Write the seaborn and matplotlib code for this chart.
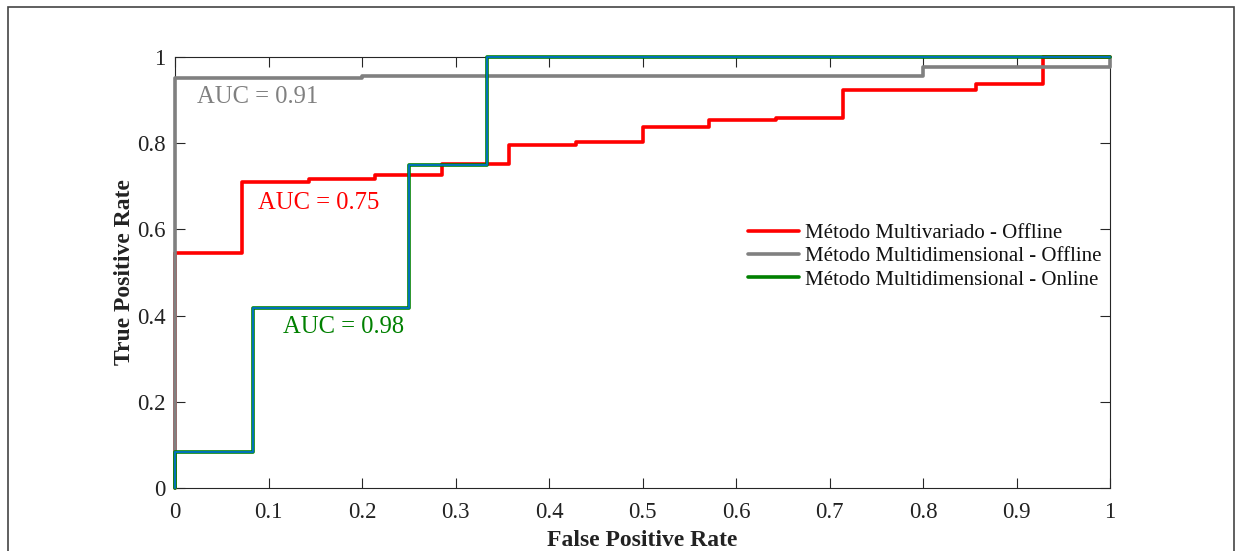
import numpy as np
import pandas as pd
import matplotlib
matplotlib.use("Agg")
import matplotlib.pyplot as plt
from matplotlib.patches import Rectangle
import seaborn as sns

# ROC operating points (false positive rate, true positive rate)
fpr_multivariado = [0, 0, 1/14, 2/14, 3/14, 4/14, 5/14, 6/14, 7/14, 8/14, 9/14, 10/14, 12/14, 13/14, 1]
tpr_multivariado = [0, 0.545, 0.711, 0.717, 0.727, 0.752, 0.796, 0.803, 0.838, 0.853, 0.858, 0.923, 0.938, 1.0, 1.0]

fpr_multidim_off = [0, 0, 0.2, 0.8, 1, 1]
tpr_multidim_off = [0, 0.951, 0.956, 0.976, 0.976, 1.0]

fpr_multidim_on = [0, 0, 1/12, 3/12, 4/12, 1]
tpr_multidim_on = [0, 1/12, 5/12, 9/12, 1.0, 1.0]

labels = ["Método Multivariado - Offline",
          "Método Multidimensional - Offline",
          "Método Multidimensional - Online"]
auc_texts = ["AUC = 0.75", "AUC = 0.91", "AUC = 0.98"]

sns.set_theme(style="white")
plt.rcParams["font.family"] = ["Liberation Serif", "DejaVu Serif"]

RED = (1.0, 0.0, 0.0)
GRAY = (0.5, 0.5, 0.5)
GREEN = (0.0, 0.5, 0.0)
BLUE = (0.0, 0.447, 0.741)
AXC = (0.15, 0.15, 0.15)

fig = plt.figure(figsize=(12.37, 5.51), dpi=100)
ax = fig.add_axes([175/1237, 1 - 488/551, (1110-175)/1237, (488-57)/551])

df_r = pd.DataFrame({"fpr": fpr_multivariado, "tpr": tpr_multivariado})
df_g = pd.DataFrame({"fpr": fpr_multidim_off, "tpr": tpr_multidim_off})
df_o = pd.DataFrame({"fpr": fpr_multidim_on, "tpr": tpr_multidim_on})

common = dict(x="fpr", y="tpr", sort=False, estimator=None, ax=ax,
              drawstyle="steps-post", clip_on=False)
sns.lineplot(data=df_r, color=RED, lw=2.6, label=labels[0], zorder=3, **common)
sns.lineplot(data=df_g, color=GRAY, lw=2.6, label=labels[1], zorder=4, **common)
sns.lineplot(data=df_o, color=GREEN, lw=2.6, label=labels[2], zorder=5, **common)
sns.lineplot(data=df_o, color=BLUE, lw=1.4, legend=False, zorder=6, **common)

ax.set_xlim(0, 1)
ax.set_ylim(0, 1)
ax.set_xticks(np.round(np.arange(0, 1.01, 0.1), 1))
ax.set_yticks(np.round(np.arange(0, 1.01, 0.2), 1))
ax.set_xticklabels(["0", "0.1", "0.2", "0.3", "0.4", "0.5", "0.6", "0.7", "0.8", "0.9", "1"])
ax.set_yticklabels(["0", "0.2", "0.4", "0.6", "0.8", "1"])
ax.tick_params(direction="in", length=7, width=0.8, color=AXC, labelcolor="#222222",
               labelsize=16.5, top=True, right=True, bottom=True, left=True)
ax.tick_params(axis="x", pad=10)
ax.tick_params(axis="y", pad=7)
for s in ax.spines.values():
    s.set_visible(True)
    s.set_color(AXC)
    s.set_linewidth(0.8)
    s.set_zorder(2)

ax.set_xlabel("False Positive Rate", fontsize=17, fontweight="bold", color="#222222", labelpad=5)
ax.set_ylabel("True Positive Rate", fontsize=17, fontweight="bold", color="#222222", labelpad=1.5)

ax.text(0.0235, 0.907, auc_texts[1], color=GRAY, fontsize=17.7, va="center", ha="left")
ax.text(0.0888, 0.661, auc_texts[0], color=RED, fontsize=17.7, va="center", ha="left")
ax.text(0.1155, 0.374, auc_texts[2], color=GREEN, fontsize=17.7, va="center", ha="left")

leg = ax.legend(loc="upper left", bbox_to_anchor=(0.613, 0.614), frameon=False,
                fontsize=15.0, handlelength=2.45, handletextpad=0.28,
                labelspacing=0.18, borderpad=0, borderaxespad=0)
for t in leg.get_texts():
    t.set_color("#111111")

# figure frame
fig.patches.append(Rectangle((8/1237, -0.1), (1234-8)/1237, 1.1 - 7/551,
                             transform=fig.transFigure, fill=False,
                             edgecolor="#444444", lw=1.2))

fig.savefig("out.png", dpi=100)
